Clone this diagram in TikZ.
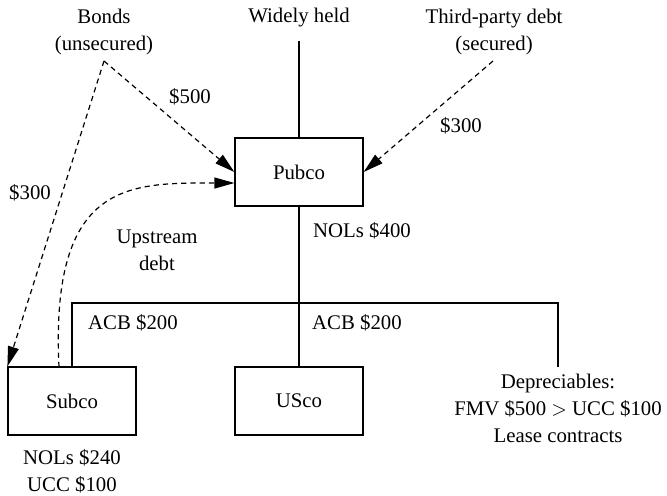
\documentclass[tikz,border=0pt]{standalone}
\usepackage{fontspec}
\setmainfont{Liberation Serif}
\usetikzlibrary{arrows.meta}
\begin{document}
\begin{tikzpicture}[x=0.5pt,y=-0.5pt,line width=0.6pt,
    font=\fontsize{10.4}{13.5}\selectfont,
    box/.style={draw,minimum width=64pt,minimum height=34pt,inner sep=0pt},
    loan/.style={dash pattern=on 2.6pt off 2pt,-{Triangle[length=10pt,width=5.5pt]}}]
        \useasboundingbox (0,0) rectangle (667,495);
        \node[box] (pubco) at (299,172) {Pubco};
        \node[box] (subco) at (72,401) {Subco};
        \node[box] (usco) at (299,401) {USco};
        \node[align=center] (bonds) at (104,31.5) {Bonds\\(unsecured)};
        \node (widely) at (299,18) {Widely held};
        \node[align=center] (third) at (494,31.5) {Third-party debt\\(secured)};
        \node[align=center] (depr) at (558,408) {Depreciables:\\FMV \$500 $>$ UCC \$100\\Lease contracts};
        \node[align=center] (subnols) at (72,471) {NOLs \$240\\UCC \$100};
        \coordinate (bondsfoot) at (104,61);
        \coordinate (widelyfoot) at (299,41);
        \coordinate (thirdfoot) at (493,61);
        \coordinate (upfoot) at (59,367);
        \coordinate (bus) at (299,303);
        \coordinate (deprtop) at (558,367);
        % holdings
        \draw (widelyfoot) -- (pubco.north);
        \draw (pubco.south) -- (usco.north);
        \draw (subco.north) |- (bus) -| (deprtop);
        % debt
        \draw[loan] (bondsfoot) -- (pubco.west);
        \draw[loan] (bondsfoot) -- (subco.north west);
        \draw[loan] (thirdfoot) -- (pubco.east);
        \draw[loan] (upfoot) .. controls (50,180) and (130,183) .. ([yshift=-5.5pt]pubco.west);
        % labels
        \node (l500) at (190,97) {\$500};
        \node (l300a) at (30,193) {\$300};
        \node (l300b) at (461,126) {\$300};
        \node[align=center] (upstream) at (157,250.5) {Upstream\\debt};
        \node (pubnols) at (362,231) {NOLs \$400};
        \node (acba) at (133,323) {ACB \$200};
        \node (acbb) at (357,323) {ACB \$200};
    \end{tikzpicture}
\end{document}
